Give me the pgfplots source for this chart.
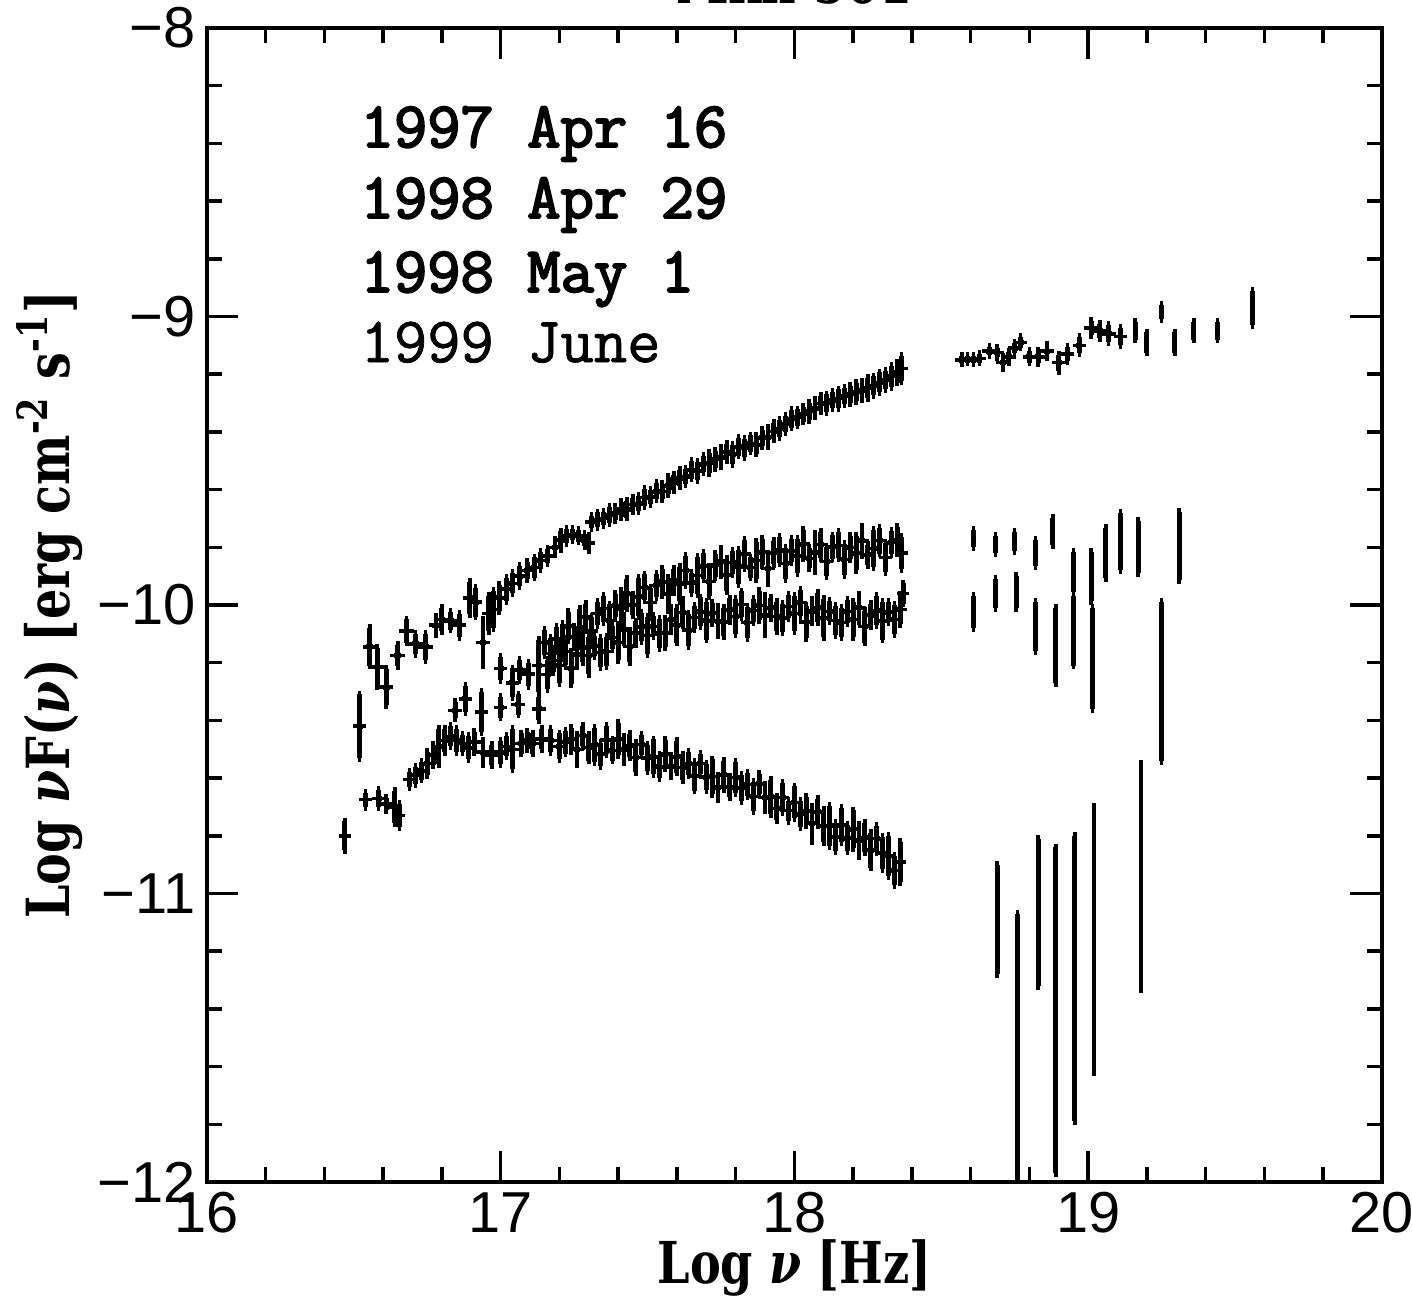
\documentclass[border=0pt]{standalone}
\usepackage{pgfplots}
\pgfplotsset{compat=1.18}
\usepackage{pgfplotstable}
\usepackage{fontspec}
\setmainfont{Liberation Sans}
\newfontfamily\labfont[FakeStretch=0.80]{DejaVu Serif}
\newfontfamily\legbold[FakeBold=3]{Latin Modern Mono}
\newfontfamily\leglight[FakeBold=1.2]{Latin Modern Mono}

% ---------- 1997 Apr 16 ----------
\pgfplotstableread{
x y ex ey
16.555 -10.145 0.012 0.065
16.580 -10.215 0.012 0.065
16.610 -10.285 0.012 0.063
16.650 -10.175 0.012 0.038
16.680 -10.090 0.012 0.040
16.710 -10.135 0.012 0.035
16.745 -10.145 0.012 0.045
16.780 -10.070 0.012 0.030
16.800 -10.050 0.010 0.040
16.830 -10.055 0.010 0.030
16.860 -10.070 0.010 0.040
16.895 -9.975 0.010 0.055
16.915 -9.990 0.010 0.050
16.940 -10.130 0.010 0.080
16.960 -10.030 0.010 0.060
16.975 -10.015 0.010 0.065
16.995 -9.975 0.010 0.045
17.020 -9.945 0.010 0.040
17.040 -9.925 0.010 0.035
17.065 -9.900 0.010 0.035
17.090 -9.880 0.010 0.030
17.115 -9.870 0.010 0.035
17.135 -9.845 0.010 0.030
17.160 -9.830 0.010 0.025
17.185 -9.800 0.010 0.025
17.205 -9.775 0.010 0.030
17.225 -9.760 0.010 0.025
17.245 -9.755 0.010 0.020
17.265 -9.760 0.010 0.020
17.285 -9.775 0.010 0.020
17.300 -9.785 0.008 0.025
17.31 -9.712 0.01 0.022
17.33 -9.705 0.01 0.026
17.35 -9.700 0.01 0.024
17.37 -9.688 0.01 0.029
17.39 -9.683 0.01 0.024
17.41 -9.670 0.01 0.026
17.43 -9.668 0.01 0.029
17.45 -9.652 0.01 0.024
17.47 -9.648 0.01 0.026
17.49 -9.628 0.01 0.029
17.51 -9.625 0.01 0.024
17.53 -9.606 0.01 0.028
17.55 -9.607 0.01 0.026
17.57 -9.585 0.01 0.030
17.59 -9.575 0.01 0.026
17.61 -9.560 0.01 0.029
17.63 -9.555 0.01 0.026
17.65 -9.532 0.01 0.030
17.67 -9.535 0.01 0.032
17.69 -9.512 0.01 0.028
17.71 -9.508 0.01 0.034
17.73 -9.495 0.01 0.030
17.75 -9.488 0.01 0.032
17.77 -9.470 0.01 0.028
17.79 -9.478 0.01 0.034
17.81 -9.452 0.01 0.030
17.83 -9.455 0.01 0.032
17.85 -9.440 0.01 0.028
17.87 -9.445 0.01 0.030
17.89 -9.420 0.01 0.028
17.91 -9.418 0.01 0.032
17.93 -9.398 0.01 0.028
17.95 -9.388 0.01 0.030
17.97 -9.372 0.01 0.028
17.99 -9.355 0.01 0.030
18.01 -9.350 0.01 0.028
18.03 -9.338 0.01 0.026
18.05 -9.330 0.01 0.030
18.07 -9.318 0.01 0.028
18.09 -9.302 0.01 0.026
18.11 -9.300 0.01 0.030
18.13 -9.290 0.01 0.028
18.15 -9.285 0.01 0.032
18.17 -9.276 0.01 0.028
18.19 -9.270 0.01 0.030
18.21 -9.262 0.01 0.032
18.23 -9.258 0.01 0.030
18.25 -9.248 0.01 0.034
18.27 -9.240 0.01 0.032
18.29 -9.228 0.01 0.034
18.31 -9.220 0.01 0.032
18.33 -9.208 0.01 0.036
18.35 -9.195 0.01 0.034
18.365 -9.180 0.008 0.044
18.57 -9.150 0.010 0.012
18.59 -9.148 0.010 0.012
18.61 -9.150 0.010 0.012
18.63 -9.145 0.010 0.015
18.665 -9.120 0.012 0.015
18.69 -9.125 0.010 0.015
18.71 -9.160 0.010 0.020
18.73 -9.140 0.010 0.018
18.75 -9.110 0.010 0.018
18.77 -9.090 0.010 0.018
18.80 -9.140 0.010 0.020
18.83 -9.140 0.010 0.022
18.86 -9.120 0.010 0.022
18.90 -9.160 0.010 0.028
18.93 -9.130 0.010 0.025
18.97 -9.100 0.010 0.028
19.01 -9.040 0.010 0.025
19.04 -9.050 0.010 0.025
19.07 -9.060 0.010 0.030
19.11 -9.070 0.010 0.030
19.16 -9.050 0.000 0.030
19.20 -9.090 0.000 0.035
19.25 -8.985 0.000 0.025
19.295 -9.090 0.000 0.035
19.36 -9.050 0.000 0.030
19.44 -9.050 0.000 0.030
19.56 -8.970 0.000 0.060
}\dataA

% ---------- 1998 Apr 29 ----------
\pgfplotstableread{
x y ex ey
17.000 -10.220 0.010 0.040
17.040 -10.270 0.010 0.050
17.065 -10.225 0.010 0.035
17.095 -10.240 0.010 0.040
17.130 -10.210 0.010 0.090
17.15 -10.130 0.01 0.045
17.17 -10.168 0.01 0.055
17.19 -10.117 0.01 0.040
17.21 -10.125 0.01 0.060
17.23 -10.073 0.01 0.050
17.25 -10.111 0.01 0.035
17.27 -10.079 0.01 0.065
17.29 -10.042 0.01 0.045
17.31 -10.090 0.01 0.050
17.33 -10.029 0.01 0.040
17.35 -10.013 0.01 0.045
17.37 -10.053 0.01 0.055
17.39 -10.002 0.01 0.040
17.41 -10.011 0.01 0.060
17.43 -9.961 0.01 0.050
17.45 -10.000 0.01 0.035
17.47 -9.972 0.01 0.065
17.49 -9.939 0.01 0.045
17.51 -9.991 0.01 0.050
17.53 -9.933 0.01 0.040
17.55 -9.920 0.01 0.045
17.57 -9.962 0.01 0.055
17.59 -9.914 0.01 0.040
17.61 -9.927 0.01 0.060
17.63 -9.880 0.01 0.050
17.65 -9.923 0.01 0.035
17.67 -9.897 0.01 0.065
17.69 -9.865 0.01 0.045
17.71 -9.918 0.01 0.050
17.73 -9.862 0.01 0.040
17.75 -9.850 0.01 0.045
17.77 -9.896 0.01 0.055
17.79 -9.852 0.01 0.040
17.81 -9.868 0.01 0.060
17.83 -9.824 0.01 0.050
17.85 -9.870 0.01 0.035
17.87 -9.846 0.01 0.065
17.89 -9.817 0.01 0.045
17.91 -9.873 0.01 0.050
17.93 -9.819 0.01 0.040
17.95 -9.810 0.01 0.045
17.97 -9.856 0.01 0.055
17.99 -9.812 0.01 0.040
18.01 -9.830 0.01 0.060
18.03 -9.789 0.01 0.050
18.05 -9.838 0.01 0.035
18.07 -9.817 0.01 0.065
18.09 -9.791 0.01 0.045
18.11 -9.850 0.01 0.050
18.13 -9.799 0.01 0.040
18.15 -9.793 0.01 0.045
18.17 -9.842 0.01 0.055
18.19 -9.801 0.01 0.040
18.21 -9.820 0.01 0.060
18.23 -9.778 0.01 0.050
18.25 -9.826 0.01 0.035
18.27 -9.804 0.01 0.065
18.29 -9.777 0.01 0.045
18.31 -9.835 0.01 0.050
18.33 -9.783 0.01 0.040
18.35 -9.775 0.01 0.045
18.365 -9.820 0.008 0.055
18.61 -9.770 0 0.030
18.685 -9.790 0 0.030
18.75 -9.780 0 0.033
18.82 -9.820 0 0.045
18.88 -9.745 0 0.048
18.95 -9.885 0 0.070
19.01 -9.900 0 0.085
19.06 -9.820 0 0.087
19.11 -9.780 0 0.100
19.17 -9.800 0 0.090
19.31 -9.795 0 0.118
}\dataB

% ---------- 1998 May 1 ----------
\pgfplotstableread{
x y ex ey
16.520 -10.420 0.010 0.110
16.845 -10.365 0.010 0.028
16.880 -10.325 0.010 0.045
16.935 -10.370 0.010 0.070
17.000 -10.355 0.010 0.035
17.060 -10.345 0.010 0.035
17.130 -10.360 0.010 0.040
17.16 -10.241 0.01 0.050
17.18 -10.193 0.01 0.040
17.20 -10.210 0.01 0.060
17.22 -10.162 0.01 0.045
17.24 -10.219 0.01 0.055
17.26 -10.171 0.01 0.040
17.28 -10.148 0.01 0.050
17.30 -10.175 0.01 0.065
17.32 -10.142 0.01 0.035
17.34 -10.164 0.01 0.050
17.36 -10.161 0.01 0.050
17.38 -10.113 0.01 0.040
17.40 -10.130 0.01 0.060
17.42 -10.084 0.01 0.045
17.44 -10.143 0.01 0.055
17.46 -10.097 0.01 0.040
17.48 -10.076 0.01 0.050
17.50 -10.105 0.01 0.065
17.52 -10.074 0.01 0.035
17.54 -10.098 0.01 0.050
17.56 -10.097 0.01 0.050
17.58 -10.051 0.01 0.040
17.60 -10.070 0.01 0.060
17.62 -10.026 0.01 0.045
17.64 -10.087 0.01 0.055
17.66 -10.043 0.01 0.040
17.68 -10.024 0.01 0.050
17.70 -10.055 0.01 0.065
17.72 -10.028 0.01 0.035
17.74 -10.056 0.01 0.050
17.76 -10.059 0.01 0.050
17.78 -10.017 0.01 0.040
17.80 -10.040 0.01 0.060
17.82 -9.998 0.01 0.045
17.84 -10.061 0.01 0.055
17.86 -10.019 0.01 0.040
17.88 -10.002 0.01 0.050
17.90 -10.035 0.01 0.065
17.92 -10.010 0.01 0.035
17.94 -10.040 0.01 0.050
17.96 -10.045 0.01 0.050
17.98 -10.005 0.01 0.040
18.00 -10.030 0.01 0.060
18.02 -9.992 0.01 0.045
18.04 -10.059 0.01 0.055
18.06 -10.021 0.01 0.040
18.08 -10.008 0.01 0.050
18.10 -10.045 0.01 0.065
18.12 -10.022 0.01 0.035
18.14 -10.054 0.01 0.050
18.16 -10.061 0.01 0.050
18.18 -10.023 0.01 0.040
18.20 -10.050 0.01 0.060
18.22 -10.010 0.01 0.045
18.24 -10.075 0.01 0.055
18.26 -10.035 0.01 0.040
18.28 -10.020 0.01 0.050
18.30 -10.055 0.01 0.065
18.32 -10.025 0.01 0.035
18.34 -10.050 0.01 0.050
18.36 -10.015 0.01 0.050
18.37 -9.960 0.006 0.035
18.61 -10.025 0 0.055
18.685 -9.960 0 0.050
18.755 -9.955 0 0.055
18.82 -10.075 0 0.085
18.89 -10.140 0 0.130
18.95 -10.090 0 0.120
19.015 -10.185 0 0.175
19.25 -10.265 0 0.275
}\dataC

% ---------- 1999 June ----------
\pgfplotstableread{
x y ex ey
16.47 -10.800 0.008 0.050
16.54 -10.675 0.010 0.025
16.585 -10.670 0.010 0.030
16.61 -10.690 0.008 0.020
16.64 -10.700 0.010 0.055
16.655 -10.730 0.008 0.040
16.69 -10.605 0.010 0.025
16.71 -10.590 0.010 0.030
16.73 -10.575 0.010 0.030
16.75 -10.550 0.010 0.040
16.77 -10.520 0.010 0.035
16.79 -10.490 0.010 0.060
16.81 -10.470 0.010 0.040
16.83 -10.455 0.010 0.035
16.85 -10.470 0.010 0.040
16.87 -10.480 0.010 0.030
16.89 -10.495 0.010 0.040
16.91 -10.475 0.010 0.035
16.94 -10.510 0.010 0.040
16.97 -10.520 0.010 0.035
17.00 -10.510 0.010 0.040
17.02 -10.490 0.010 0.035
17.04 -10.500 0.010 0.070
17.07 -10.480 0.010 0.035
17.09 -10.470 0.010 0.030
17.11 -10.480 0.010 0.035
17.14 -10.465 0.010 0.035
17.17 -10.470 0.010 0.040
17.20 -10.490 0.010 0.045
17.22 -10.475 0.010 0.040
17.24 -10.465 0.01 0.040
17.26 -10.501 0.01 0.050
17.28 -10.453 0.01 0.035
17.30 -10.494 0.01 0.045
17.32 -10.485 0.01 0.060
17.34 -10.517 0.01 0.040
17.36 -10.468 0.01 0.050
17.38 -10.504 0.01 0.035
17.40 -10.465 0.01 0.055
17.42 -10.501 0.01 0.045
17.44 -10.487 0.01 0.040
17.46 -10.528 0.01 0.050
17.48 -10.484 0.01 0.035
17.50 -10.530 0.01 0.045
17.52 -10.526 0.01 0.060
17.54 -10.561 0.01 0.040
17.56 -10.517 0.01 0.050
17.58 -10.559 0.01 0.035
17.60 -10.526 0.01 0.055
17.62 -10.563 0.01 0.045
17.64 -10.550 0.01 0.040
17.66 -10.593 0.01 0.050
17.68 -10.550 0.01 0.035
17.70 -10.597 0.01 0.045
17.72 -10.595 0.01 0.060
17.74 -10.632 0.01 0.040
17.76 -10.589 0.01 0.050
17.78 -10.631 0.01 0.035
17.80 -10.598 0.01 0.055
17.82 -10.635 0.01 0.045
17.84 -10.622 0.01 0.040
17.86 -10.663 0.01 0.050
17.88 -10.620 0.01 0.035
17.90 -10.667 0.01 0.045
17.92 -10.665 0.01 0.060
17.94 -10.706 0.01 0.040
17.96 -10.667 0.01 0.050
17.98 -10.713 0.01 0.035
18.00 -10.684 0.01 0.055
18.02 -10.725 0.01 0.045
18.04 -10.714 0.01 0.050
18.06 -10.758 0.01 0.060
18.08 -10.717 0.01 0.045
18.10 -10.766 0.01 0.055
18.12 -10.765 0.01 0.070
18.14 -10.804 0.01 0.050
18.16 -10.763 0.01 0.060
18.18 -10.808 0.01 0.045
18.20 -10.777 0.01 0.065
18.22 -10.816 0.01 0.055
18.24 -10.805 0.01 0.050
18.26 -10.850 0.01 0.060
18.28 -10.810 0.01 0.045
18.30 -10.860 0.01 0.055
18.32 -10.870 0.01 0.070
18.34 -10.920 0.01 0.050
18.36 -10.890 0.008 0.070
}\dataD

\pgfplotstableread{
x y ex ep em
18.69 -11.05 0 0.15 0.23
18.76 -11.41 0 0.34 0.70
18.83 -11.00 0 0.19 0.32
18.89 -11.12 0 0.28 0.85
18.955 -11.06 0 0.26 0.73
19.02 -10.95 0 0.25 0.67
19.18 -10.79 0 0.24 0.54
}\dataDpds

\begin{document}
\begin{tikzpicture}
\begin{axis}[
  name=ax,
  scale only axis,
  width=335.7pt, height=329.7pt,
  xmin=16, xmax=20, ymin=-12, ymax=-8,
  xtick={16,17,18,19,20},
  xticklabels={16,17,18,19,20},
  ytick={-12,-11,-10,-9,-8},
  yticklabels={−12,−11,−10,−9,−8},
  minor x tick num=4, minor y tick num=4,
  tick align=inside,
  major tick length=9pt, minor tick length=4.3pt,
  every tick/.style={black, line width=1pt},
  axis line style={line width=1.2pt},
  tick label style={font=\fontsize{16.5}{18}\selectfont},
  xticklabel style={anchor=base, yshift=-14.3pt, inner sep=0pt},
  yticklabel style={anchor=east, inner sep=0pt, xshift=-3pt},
  xlabel={Log \textit{ν} [Hz]},
  xlabel style={font=\labfont\bfseries\fontsize{16.5}{19}\selectfont, at={(axis description cs:0.5,0)}, anchor=base, yshift=-29pt, inner sep=0pt},
  ylabel={Log \textit{ν}F(\textit{ν}) [erg cm\textsuperscript{-2} s\textsuperscript{-1}]},
  ylabel style={font=\labfont\bfseries\fontsize{17}{19}\selectfont, at={(axis description cs:0,0.5)}, anchor=center, yshift=44.9pt, inner sep=0pt},
  clip=true,
  ebar/.style={draw=none, mark=none,
    error bars/.cd, x dir=both, x explicit, y dir=both, y explicit,
    error bar style={draw=black, solid, line width=1.4pt},
    error mark options={draw=black, solid, line width=1pt, mark size=1.1pt}},
]
\addplot[ebar] table[x=x, y=y, x error=ex, y error=ey] {\dataA};
\addplot[ebar] table[x=x, y=y, x error=ex, y error=ey] {\dataB};
\addplot[ebar] table[x=x, y=y, x error=ex, y error=ey] {\dataC};
\addplot[ebar] table[x=x, y=y, x error=ex, y error=ey] {\dataD};
\addplot[ebar] table[x=x, y=y, x error=ex, y error plus=ep, y error minus=em] {\dataDpds};

\node[anchor=base west, inner sep=0pt, font=\legbold\fontsize{18.5}{21}\selectfont] at (axis cs:16.521,-8.4125) {1997 Apr 16};
\node[anchor=base west, inner sep=0pt, font=\legbold\fontsize{18.5}{21}\selectfont] at (axis cs:16.521,-8.6586) {1998 Apr 29};
\node[anchor=base west, inner sep=0pt, font=\legbold\fontsize{18.5}{21}\selectfont] at (axis cs:16.521,-8.915) {1998 May 1};
\node[anchor=base west, inner sep=0pt, font=\leglight\fontsize{18.5}{21}\selectfont] at (axis cs:16.521,-9.158) {1999 June};
\end{axis}
\node[anchor=base, inner sep=0pt, font=\labfont\bfseries\fontsize{17}{19}\selectfont] at ([yshift=7pt]ax.north) {Mkn 501};
\pgfresetboundingbox
\path ([xshift=-59.1pt,yshift=-33.1pt]ax.south west) rectangle ([xshift=8.6pt,yshift=8pt]ax.north east);
\end{tikzpicture}
\end{document}
